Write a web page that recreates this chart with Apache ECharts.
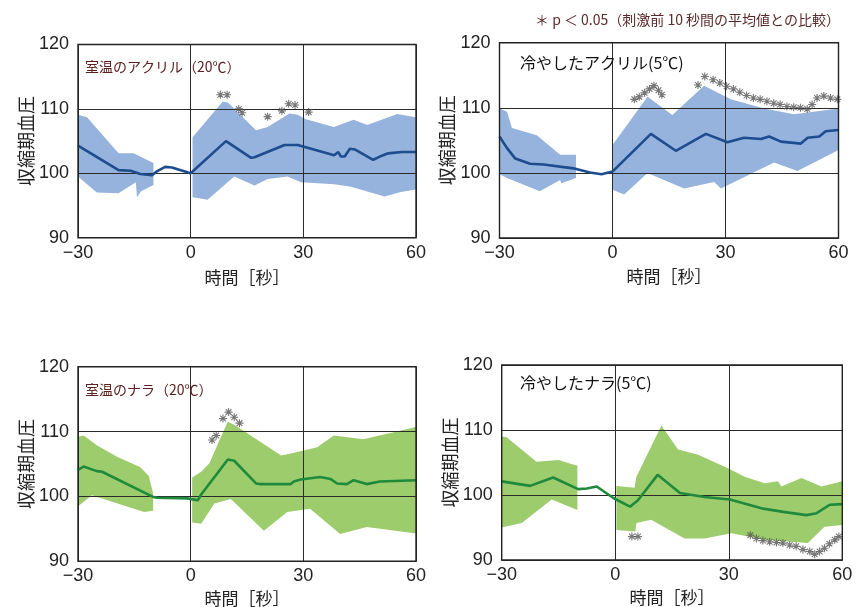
<!DOCTYPE html>
<html>
<head>
<meta charset="utf-8">
<script src="https://cdn.jsdelivr.net/npm/echarts@6/dist/echarts.min.js"></script>
<style>html,body{margin:0;padding:0;background:#fff}#c{width:856px;height:607px}</style>
</head>
<body>
<div id="c"></div>
<script>
// ---- tick labels ----
const xTicks = [-30, 0, 30, 60];
const yTicks = [90, 100, 110, 120];
const xName = '時間［秒］';
const yName = '収縮期血圧';
const note = '＊ p ＜ 0.05（刺激前 10 秒間の平均値との比較）';
const titles = ['室温のアクリル（20℃）', '冷やしたアクリル(5℃)', '室温のナラ（20℃）', '冷やしたナラ(5℃)'];

// ---- panel 1: 室温のアクリル ----
const acrylWarmMean = [[-30,104.3],[-19.2,100.5],[-16,100.4],[-13.4,99.9],[-10.3,99.7],[-9,100.3],[-6.8,101],[-5,100.9],[0,100],[9.4,105],[16.1,102.4],[17,102.5],[25,104.4],[28.5,104.4],[30.4,104.1],[38.2,102.8],[39.3,103.3],[40,102.6],[41,102.6],[42.4,103.8],[43.7,103.7],[48.6,102.1],[50.4,102.6],[52.6,103.1],[56.2,103.3],[60,103.3]];
const acrylWarmUpperA = [[-30,109.1],[-27.6,108.7],[-19.2,103.1],[-15.2,103.1],[-9.9,101.6]];
const acrylWarmLowerA = [[-30,99.5],[-25,97],[-19.2,96.9],[-14.6,98.6],[-14.3,96.3],[-13.2,97.2],[-9.9,98.2]];
const acrylWarmUpperB = [[0.5,105.6],[8.5,111.1],[9.9,111],[17.4,106.7],[20.5,107.2],[26.3,109.3],[28.5,109.1],[30.7,108.4],[38.1,107.2],[43.4,108.3],[47,107.5],[55,109.2],[60,108.7]];
const acrylWarmLowerB = [[0.5,96.3],[4.5,95.9],[11.6,99.5],[17,98.1],[20.5,99.1],[25.8,99.5],[29.4,98.6],[38.2,98.3],[42.7,97.9],[51.6,96.4],[56,97.1],[60,97.5]];
const acrylWarmSig = [[7.9,112.2],[9.7,112.2],[12.8,110],[13.7,109.4],[20.5,108.8],[24.3,109.7],[26.1,110.8],[27.8,110.6],[31.4,109.5]];

// ---- panel 2: 冷やしたアクリル ----
const acrylColdMean = [[-30,105.6],[-28,103.8],[-25.8,102.2],[-21.9,101.4],[-18.3,101.3],[-10.4,100.7],[-6,100.05],[-2.9,99.8],[0,100.2],[10.2,106],[16.8,103.4],[24.8,106],[30.5,104.7],[34.9,105.4],[39.4,105.2],[41.6,105.6],[44.7,104.8],[50,104.5],[51.8,105.4],[54.9,105.6],[56.6,106.4],[60,106.6]];
const acrylColdUpperA = [[-30,109.9],[-28,109.4],[-26.7,106.9],[-20.1,105.8],[-13.9,102.8],[-9.7,102.8]];
const acrylColdLowerA = [[-30,99.8],[-28,99.2],[-19.3,97.2],[-13.9,98.9],[-13.6,98.4],[-9.7,99.2]];
const acrylColdUpperB = [[0,104.3],[9.3,111.7],[15.9,108.9],[24.3,113.4],[31.4,111.3],[40.3,109.9],[48.2,109],[60,109.9]];
const acrylColdLowerB = [[0,97.4],[3.1,96.7],[9.3,100],[19,97.6],[27,98.6],[28.8,97.6],[42.9,101.6],[49.1,100.3],[60,103.5]];
const acrylColdSig = [[5.8,111.3],[7.1,111.7],[8.5,112.3],[9.8,112.9],[11,113.4],[12.2,112.7],[13.1,112],
  [22.7,113.5],[24.5,114.8],[26.7,114.3],[28.5,113.8],[30.3,113.3],[32.1,112.9],[33.8,112.4],[35.6,111.9],[37.4,111.5],[39.2,111.3],[41,111],[42.8,110.7],[44.5,110.5],[46.3,110.2],[48.1,110.1],[49.9,110],[51.7,109.8],[53,110.5],[54.3,111.5],[56.1,111.8],[57.9,111.5],[59.7,111.3]];

// ---- panel 3: 室温のナラ ----
const oakWarmMean = [[-30,104.1],[-28.5,104.6],[-25,103.9],[-23.6,103.8],[-9.9,99.9],[-9,99.8],[-0.8,99.7],[1.9,99.4],[2.8,100.3],[9.9,105.7],[11.6,105.5],[17.4,102],[18.7,101.9],[26.6,101.9],[27.5,102.3],[29.3,102.6],[34.5,103],[37.2,102.7],[39,102],[41.6,101.9],[43.4,102.5],[46.9,101.9],[50.4,102.3],[60,102.5]];
const oakWarmUpperA = [[-30,109.2],[-28.5,109.4],[-25,107.9],[-19.6,106.1],[-13.4,104.5],[-11.2,103.2],[-10,100.5]];
const oakWarmLowerA = [[-30,98.5],[-26.3,100.2],[-20.5,99.1],[-12.4,97.6],[-10,97.8]];
const oakWarmUpperB = [[0.4,102.9],[2.8,103.8],[5,105.1],[7.7,108.7],[9.9,111.5],[11.7,111],[24.1,106.3],[26.7,106.6],[33.7,107.6],[38.1,109.4],[46,108.8],[60,110.7]];
const oakWarmLowerB = [[0.4,96],[2.8,95.8],[6.3,98.9],[10.7,99.6],[19.5,94.7],[25.7,97.6],[31.8,98.1],[39.8,94.2],[46.9,95.3],[60,94.3]];
const oakWarmSig = [[5.7,108.7],[6.8,109.4],[8.6,112],[10.1,113],[11.6,112.2],[13,111.3]];

// ---- panel 4: 冷やしたナラ ----
const oakColdMean = [[-30,102.1],[-22.5,101.4],[-16.4,102.7],[-9.8,100.9],[-7.5,101],[-4.9,101.3],[-0.4,99.5],[3.9,98.2],[6,99.2],[11.2,103.1],[17.1,100.3],[23.6,99.7],[30.3,99.3],[39.1,97.9],[44.4,97.4],[50.5,96.9],[53.2,97.2],[56.7,98.5],[60,98.6]];
const oakColdUpperA = [[-30,109],[-28.7,108.9],[-20.8,105.1],[-15,105.4],[-10,104.5]];
const oakColdLowerA = [[-30,95],[-24.7,95.7],[-16.8,99.3],[-10,97.7]];
const oakColdUpperB = [[0.3,101.4],[5.1,101.1],[5.6,102.8],[12.2,110.7],[16.6,107],[21.9,106.2],[29.8,104.1],[34.2,102.8],[39.5,101.8],[43,102.1],[43.9,101.3],[49.2,102.6],[54.5,101.3],[60,102.1]];
const oakColdLowerB = [[0.3,94.6],[5.3,94.4],[5.6,95.7],[9.5,96.2],[18.3,93.3],[23.6,93.3],[30.7,94.1],[39.5,93.1],[50.9,92.6],[55.3,95.1],[60,95.4]];
const oakColdSig = [[4.4,93.6],[6,93.6],
  [35.7,93.8],[37.3,93.3],[39,93],[40.8,92.8],[42.6,92.7],[44.3,92.6],[46.1,92.3],[47.8,92.1],[49.6,91.6],[51.4,91.3],[52.7,90.9],[54,91.3],[55.3,91.8],[56.6,92.5],[58,93.1],[59.1,93.6]];

// ---- layout / style ----
const FONT = '"Liberation Sans", "Noto Sans CJK JP", sans-serif';
const JP = '"Noto Sans CJK JP", sans-serif';
const BLUE_BAND = '#96b3dd', BLUE_LINE = '#1d4c8f';
const GREEN_BAND = '#9ccc6c', GREEN_LINE = '#1f8a3c';

const panels = [
  {grid:{left:78, top:44.5, width:338, height:193.2}, mean:acrylWarmMean, bands:[{u:acrylWarmUpperA,l:acrylWarmLowerA},{u:acrylWarmUpperB,l:acrylWarmLowerB}], sig:acrylWarmSig, band:BLUE_BAND, line:BLUE_LINE, yGap:43, xGap:31},
  {grid:{left:499.5, top:42.7, width:339, height:195.3}, mean:acrylColdMean, bands:[{u:acrylColdUpperA,l:acrylColdLowerA},{u:acrylColdUpperB,l:acrylColdLowerB}], sig:acrylColdSig, band:BLUE_BAND, line:BLUE_LINE, yGap:35, xGap:30},
  {grid:{left:78, top:366.7, width:338, height:194.6}, mean:oakWarmMean, bands:[{u:oakWarmUpperA,l:oakWarmLowerA},{u:oakWarmUpperB,l:oakWarmLowerB}], sig:oakWarmSig, band:GREEN_BAND, line:GREEN_LINE, yGap:43, xGap:29},
  {grid:{left:501.7, top:365, width:340.6, height:195}, mean:oakColdMean, bands:[{u:oakColdUpperA,l:oakColdLowerA},{u:oakColdUpperB,l:oakColdLowerB}], sig:oakColdSig, band:GREEN_BAND, line:GREEN_LINE, yGap:37, xGap:29}
];

const ASTER = 'path://M0,-5L0,5M-5,0L5,0M-3.6,-3.6L3.6,3.6M-3.6,3.6L3.6,-3.6';

const grids = [], xAxes = [], yAxes = [], series = [];
panels.forEach((p, i) => {
  grids.push(Object.assign({show:true, z:6, borderColor:'#222', borderWidth:1.4, backgroundColor:'rgba(0,0,0,0)', outerBoundsMode:'none', containLabel:false}, p.grid));
  xAxes.push({
    type:'value', gridIndex:i, min:xTicks[0], max:xTicks[xTicks.length-1], interval:30, z:3,
    name:xName, nameLocation:'middle', nameGap:p.xGap,
    nameTextStyle:{fontFamily:JP, fontSize:17, color:'#222'},
    axisLine:{show:false}, axisTick:{show:false},
    axisLabel:{fontFamily:FONT, fontSize:18, color:'#222', margin:6, formatter:v => v < 0 ? '−' + (-v) : String(v)},
    splitLine:{show:true, lineStyle:{color:'#2a2a2a', width:1}}
  });
  yAxes.push({
    type:'value', gridIndex:i, min:yTicks[0], max:yTicks[yTicks.length-1], interval:10, z:3,
    name:yName, nameLocation:'middle', nameRotate:90, nameGap:p.yGap,
    nameTextStyle:{fontFamily:JP, fontSize:18, color:'#222'},
    axisLine:{show:false}, axisTick:{show:false},
    axisLabel:{fontFamily:FONT, fontSize:18, color:'#222', margin:9},
    splitLine:{show:true, lineStyle:{color:'#2a2a2a', width:1}}
  });
  series.push({
    type:'custom', coordinateSystem:'cartesian2d', xAxisIndex:i, yAxisIndex:i, silent:true, z:1,
    data:p.bands.map((b, k) => [b.u[0][0], b.u[0][1], k]),
    encode:{x:0, y:1},
    renderItem:(params, api) => {
      const b = p.bands[params.dataIndex];
      const pts = b.u.concat(b.l.slice().reverse()).map(q => api.coord(q));
      return {type:'polygon', shape:{points:pts}, style:{fill:p.band}};
    }
  });
  series.push({
    type:'line', xAxisIndex:i, yAxisIndex:i, data:p.mean, showSymbol:false, symbol:'none', z:4, silent:true,
    lineStyle:{color:p.line, width:2.6}
  });
  series.push({
    type:'scatter', xAxisIndex:i, yAxisIndex:i, data:p.sig, symbol:ASTER, symbolSize:8, z:5, silent:true,
    itemStyle:{color:'rgba(0,0,0,0)', borderColor:'#555', borderWidth:1.1}
  });
});

const graphics = [
  {type:'text', x:535, y:20, style:{text:note, font:'14px ' + JP, fill:'#5a2a2a', verticalAlign:'middle'}},
  {type:'text', x:85, y:67, z:10, style:{text:titles[0], font:'14px ' + JP, fill:'#5b2020', verticalAlign:'middle'}},
  {type:'text', x:520, y:63, z:10, style:{text:titles[1], font:'16px ' + JP, fill:'#111', verticalAlign:'middle'}},
  {type:'text', x:85, y:390, z:10, style:{text:titles[2], font:'14px ' + JP, fill:'#5b2020', verticalAlign:'middle'}},
  {type:'text', x:520, y:383, z:10, style:{text:titles[3], font:'16px ' + JP, fill:'#111', verticalAlign:'middle'}}
];

const chart = echarts.init(document.getElementById('c'), null, {renderer:'canvas'});
chart.setOption({
  animation:false,
  backgroundColor:'#fff',
  grid:grids, xAxis:xAxes, yAxis:yAxes, series:series, graphic:graphics
});
</script>
</body>
</html>
